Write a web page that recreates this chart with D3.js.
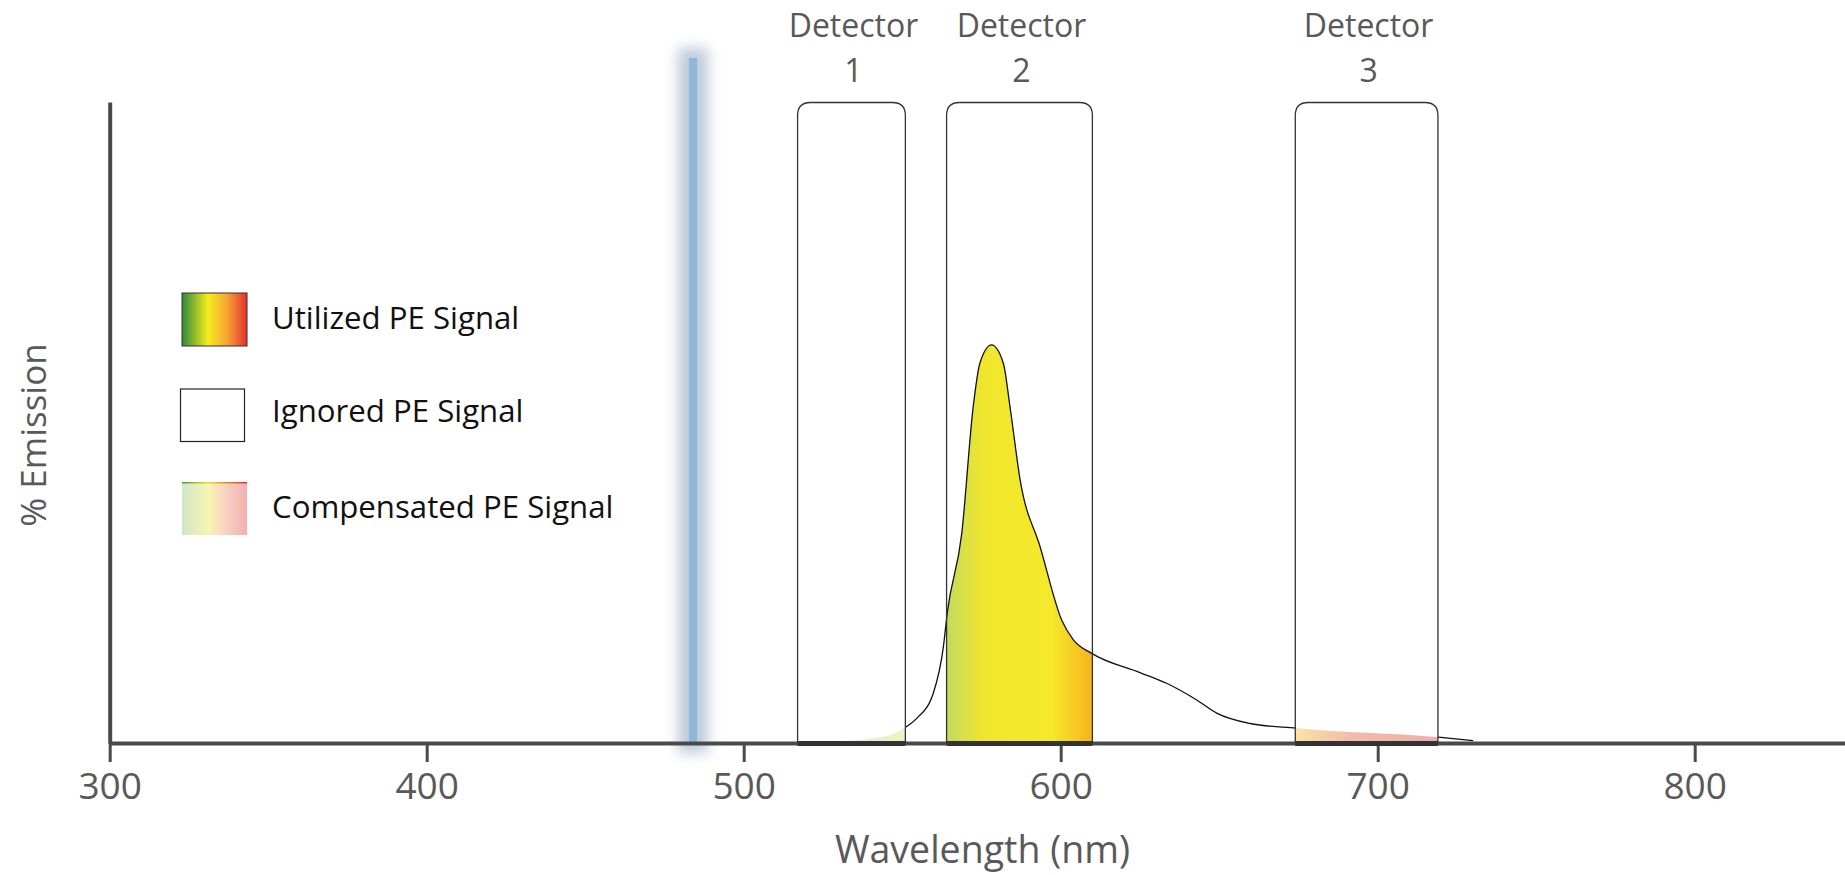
<!DOCTYPE html>
<html><head><meta charset="utf-8">
<script src="https://cdn.jsdelivr.net/npm/d3@7"></script>
<style>body{margin:0;background:#fff} svg{display:block} text{font-family:"Open Sans",sans-serif}</style>
</head><body><svg id="c" width="1845" height="875"></svg>
<script>
// ---- data ----
const wavelengths = [528.8,540.9,546.2,551.1,554.6,559.8,563.0,564.2,568.8,572.4,574.5,578.2,581.9,584.0,587.2,593.5,600.3,604.0,609.8,625.0,633.4,642.9,649.2,659.7,674.4,719.9,730.1];
const emission    = [0.4,1.2,2.0,4.0,6.2,12.5,24.2,32.6,52.7,84.5,95.4,100,95.4,84.5,66.1,49.3,30.9,25.9,22.5,17.7,15.0,10.8,7.5,4.9,3.7,1.4,0.6];
const detectorNames = ["1","2","3"];
const detectorLo = [517, 564, 674];
const detectorHi = [551, 610, 719];
const detectorRole = ["compD1","utilized","compD3"];
const laserNm = 484;
const xTicks = [300,400,500,600,700,800];
const legendLabels = ["Utilized PE Signal","Ignored PE Signal","Compensated PE Signal"];
const legendKinds = ["utilized","ignored","compensated"];

const svg = d3.select("#c");
const x = d3.scaleLinear().domain([300, 850]).range([109.7, 109.7 + 550*3.17]);
const y = d3.scaleLinear().domain([0, 161]).range([743, 102]);
const pts = wavelengths.map((w,i)=>({w, v: emission[i]}));

const defs = svg.append("defs");
function lin(id, x1, x2, stops){
  const g = defs.append("linearGradient").attr("id", id)
    .attr("gradientUnits", x1==null ? "objectBoundingBox" : "userSpaceOnUse")
    .attr("x1", x1==null?0:x1).attr("x2", x2==null?1:x2).attr("y1",0).attr("y2",0);
  stops.forEach(s=>g.append("stop").attr("offset", s[0]).attr("stop-color", s[1]));
}
lin("compD1", x(529), x(551), [[0,"#e2eedc"],[1,"#eef3c2"]]);
lin("utilized", x(564), x(610), [[0,"#c3da5f"],[0.25,"#f0e62d"],[0.72,"#f5e92a"],[1,"#f8b31c"]]);
lin("compD3", x(674), x(719), [[0,"#fce4a2"],[0.4,"#f1bba9"],[1,"#ecb0aa"]]);
lin("legUtil", null, null, [[0,"#2f8a3c"],[0.4,"#f5ec1c"],[0.7,"#f6a335"],[1,"#e4302b"]]);
lin("legComp", null, null, [[0,"#cfe6c8"],[0.4,"#f8f5b2"],[0.7,"#f6cfc3"],[1,"#f2b0b0"]]);
lin("legCompTop", null, null, [[0,"#4d9a3c"],[0.4,"#e6dd2a"],[1,"#d8352b"]]);

const blur = defs.append("filter").attr("id","glow").attr("x","-2").attr("y","-0.2").attr("width","5").attr("height","1.4");
blur.append("feGaussianBlur").attr("stdDeviation", 7);

// excitation laser line
const lx = x(laserNm);
svg.append("rect").attr("x", lx-15).attr("y", 48).attr("width", 30).attr("height", 705)
  .attr("fill", "#b4c0d4").attr("opacity", 0.85).attr("filter","url(#glow)");
svg.append("rect").attr("x", lx-4).attr("y", 58).attr("width", 8).attr("height", 743-58)
  .attr("fill", "#8fb7da");

// emission area fills inside detectors
const area = d3.area().x(d=>x(d.w)).y0(y(0)).y1(d=>y(d.v)).curve(d3.curveMonotoneX);
const line = d3.line().x(d=>x(d.w)).y(d=>y(d.v)).curve(d3.curveMonotoneX);

detectorLo.forEach((lo,i)=>{
  const id = "clipD"+i;
  defs.append("clipPath").attr("id", id).append("rect")
    .attr("x", x(lo)).attr("y", 0).attr("width", x(detectorHi[i]) - x(lo)).attr("height", y(0));
  svg.append("path").datum(pts).attr("d", area)
    .attr("fill", `url(#${detectorRole[i]})`).attr("clip-path", `url(#${id})`);
});

// curve stroke (hidden inside detectors 1 and 3)
const sc = defs.append("clipPath").attr("id","strokeClip");
sc.append("rect").attr("x", x(detectorHi[0])).attr("y",0).attr("width", x(detectorLo[2])-x(detectorHi[0])).attr("height", 760);
sc.append("rect").attr("x", x(detectorHi[2])).attr("y",0).attr("width", x(760)-x(detectorHi[2])).attr("height", 760);
svg.append("path").datum(pts).attr("d", line).attr("fill","none")
  .attr("stroke","#111").attr("stroke-width",1.3).attr("clip-path","url(#strokeClip)");

// axes
const xAxis = svg.append("g").attr("transform", `translate(0,${y(0)})`)
  .call(d3.axisBottom(x).tickValues(xTicks).tickSize(19).tickSizeOuter(0).tickFormat(d3.format("d")));
xAxis.select(".domain").attr("stroke","#4a4a4a").attr("stroke-width",4);
xAxis.selectAll(".tick line").attr("stroke","#4a4a4a").attr("stroke-width",3);
xAxis.selectAll(".tick text").attr("y", 56).attr("dy", null)
  .attr("fill","#595959").style("font-size","37px").style("font-family","'Open Sans',sans-serif");

const yAxis = svg.append("g").attr("transform", `translate(${x(300)},0)`)
  .call(d3.axisLeft(y).tickValues([]).tickSizeOuter(0));
yAxis.select(".domain").attr("stroke","#4a4a4a").attr("stroke-width",4);

// detector boxes
const boxTop = 102.5, r = 13;
detectorLo.forEach((lo,i)=>{
  const x0 = x(lo), x1 = x(detectorHi[i]), b = y(0);
  svg.append("path")
    .attr("d", `M${x0},${b} V${boxTop+r} Q${x0},${boxTop} ${x0+r},${boxTop} H${x1-r} Q${x1},${boxTop} ${x1},${boxTop+r} V${b}`)
    .attr("fill","none").attr("stroke","#333").attr("stroke-width",1.3);
  svg.append("line").attr("x1",x0).attr("x2",x1).attr("y1",b+0.5).attr("y2",b+0.5)
    .attr("stroke","#333").attr("stroke-width",5);
  const cx = (x0+x1)/2 + 2;
  svg.append("text").attr("x",cx).attr("y",37).attr("text-anchor","middle")
    .attr("fill","#595959").style("font-size","32px").text("Detector");
  svg.append("text").attr("x",cx).attr("y",82).attr("text-anchor","middle")
    .attr("fill","#595959").style("font-size","32px").text(detectorNames[i]);
});

// axis titles
svg.append("text").attr("x", x(575)+1).attr("y", 863).attr("text-anchor","middle")
  .attr("fill","#595959").style("font-size","37.5px").text("Wavelength (nm)");
svg.append("text").attr("transform","translate(46,435) rotate(-90)").attr("text-anchor","middle")
  .attr("fill","#595959").style("font-size","35px").text("% Emission");

// legend
const legY = [293, 389, 482];
const legBase = [328.5, 421.5, 517.5];
legendLabels.forEach((lab,i)=>{
  const k = legendKinds[i];
  const g = svg.append("g");
  if(k==="utilized"){
    g.append("rect").attr("x",182).attr("y",legY[i]).attr("width",65).attr("height",53)
      .attr("fill","url(#legUtil)").attr("stroke","#333").attr("stroke-width",1);
  } else if(k==="ignored"){
    g.append("rect").attr("x",180.5).attr("y",legY[i]).attr("width",64).attr("height",52.5)
      .attr("fill","#fff").attr("stroke","#222").attr("stroke-width",1.2);
  } else {
    g.append("rect").attr("x",182).attr("y",legY[i]).attr("width",65).attr("height",53)
      .attr("fill","url(#legComp)");
    g.append("rect").attr("x",182).attr("y",legY[i]).attr("width",65).attr("height",1.5)
      .attr("fill","url(#legCompTop)");
  }
  g.append("text").attr("x",272).attr("y",legBase[i]).attr("fill","#111")
    .style("font-size","31.2px").text(lab);
});
</script></body></html>
